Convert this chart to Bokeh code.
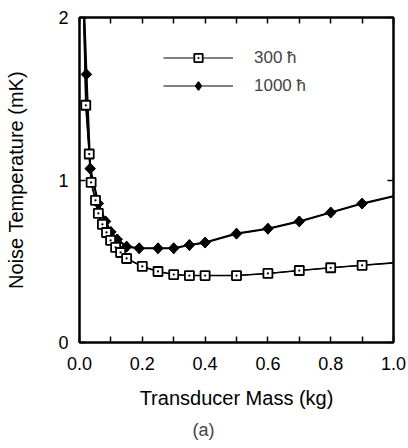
import math
from bokeh.plotting import figure
from bokeh.models import (FixedTicker, Legend, LegendItem, Title, Range1d,
                          LinearAxis, NumeralTickFormatter, CustomJSTickFormatter)
from bokeh.embed import file_html
from bokeh.resources import INLINE

# ---- data ----
mass_300 = [0.02, 0.031, 0.037, 0.051, 0.06, 0.073, 0.086, 0.099, 0.115, 0.131,
            0.15, 0.2, 0.25, 0.3, 0.35, 0.4, 0.5, 0.6, 0.7, 0.8, 0.9]
temp_300 = [1.46, 1.16, 0.985, 0.875, 0.795, 0.727, 0.677, 0.628, 0.585, 0.554,
            0.517, 0.468, 0.437, 0.418, 0.412, 0.412, 0.412, 0.425, 0.443, 0.46, 0.475]
start_300 = (0.0125, 2.1)
end_300 = (1.0, 0.49)

mass_1000 = [0.022, 0.034, 0.06, 0.083, 0.1, 0.12, 0.15, 0.19, 0.25, 0.3,
             0.35, 0.4, 0.5, 0.6, 0.7, 0.8, 0.9]
temp_1000 = [1.65, 1.07, 0.855, 0.745, 0.68, 0.635, 0.59, 0.58, 0.58, 0.58,
             0.60, 0.615, 0.67, 0.70, 0.745, 0.80, 0.855]
start_1000 = (0.0135, 2.1)
end_1000 = (1.0, 0.90)

x_ticks = [0.0, 0.2, 0.4, 0.6, 0.8, 1.0]
x_minor = [0.1, 0.3, 0.5, 0.7, 0.9]
y_ticks = [0, 1, 2]
labels = ["300 ħ", "1000 ħ"]
panel_tag = "(a)"

FONT = "Liberation Sans"

p = figure(width=408, height=448, x_range=Range1d(0, 1), y_range=Range1d(0, 2),
           output_backend="svg", toolbar_location=None,
           min_border_left=79, min_border_right=15, min_border_top=17,
           min_border_bottom=106,
           x_axis_label="Transducer Mass (kg)",
           y_axis_label="Noise Temperature (mK)")
p.grid.visible = False
p.outline_line_color = "black"
p.outline_line_width = 2

p.add_layout(LinearAxis(), "above")
p.add_layout(LinearAxis(), "right")

for ax in p.xaxis:
    ax.ticker = FixedTicker(ticks=x_ticks, minor_ticks=x_minor)
    ax.formatter = NumeralTickFormatter(format="0.0")
for ax in p.yaxis:
    ax.ticker = FixedTicker(ticks=y_ticks, minor_ticks=[])

for ax in p.axis:
    ax.axis_line_width = 2
    ax.axis_line_color = "black"
    ax.major_tick_in = 6
    ax.major_tick_out = 0
    ax.minor_tick_in = 6
    ax.minor_tick_out = 0
    ax.major_tick_line_width = 1.5
    ax.minor_tick_line_width = 1.5
    ax.major_label_text_font = FONT
    ax.major_label_text_font_size = "18px"
    ax.major_label_text_color = "black"
    ax.axis_label_text_font = FONT
    ax.axis_label_text_font_size = "20px"
    ax.axis_label_text_font_style = "normal"
    ax.axis_label_text_color = "black"

# top and right axes carry only ticks
for ax in (p.above[0], p.right[0]):
    ax.formatter = CustomJSTickFormatter(code="return ''")
    ax.major_label_standoff = 0

bottom = p.below[0]
bottom.major_label_standoff = 14
bottom.axis_label_standoff = 14
left = p.left[0]
left.major_label_standoff = 11
left.axis_label_standoff = 28

# ---- curves ----
line_x_300 = [start_300[0]] + mass_300 + [end_300[0]]
line_y_300 = [start_300[1]] + temp_300 + [end_300[1]]
line_x_1000 = [start_1000[0]] + mass_1000 + [end_1000[0]]
line_y_1000 = [start_1000[1]] + temp_1000 + [end_1000[1]]

# thin copies under the curves, used only for the legend's line style
thin_1000 = p.line(line_x_1000, line_y_1000, line_color="black", line_width=1)
thin_300 = p.line(line_x_300, line_y_300, line_color="black", line_width=1)

p.line(line_x_1000, line_y_1000, line_color="black", line_width=2.2)
p.line(line_x_300, line_y_300, line_color="black", line_width=1.6)

# diamond copy hidden under the rotated squares, used for the legend's marker
dm_1000 = p.scatter(mass_1000, temp_1000, marker="diamond", size=10,
                    fill_color="black", line_color="black", line_width=1.5)
p.scatter(mass_1000, temp_1000, marker="square", angle=math.pi / 4,
          size=7.5, fill_color="black", line_color="black", line_width=1)
mk_300 = p.scatter(mass_300, temp_300, marker="square_dot", size=9,
                   fill_color="white", line_color="black", line_width=1.8)

legend = Legend(items=[LegendItem(label=labels[0], renderers=[thin_300, mk_300]),
                       LegendItem(label=labels[1], renderers=[thin_1000, dm_1000])],
                location=(84, 246), glyph_width=70, glyph_height=21,
                label_height=21, spacing=7, padding=0, margin=0,
                label_standoff=21, border_line_color=None,
                background_fill_alpha=0,
                label_text_font=FONT, label_text_font_size="17px")
p.add_layout(legend)

# panel tag below the x-axis label
p.add_layout(Title(text=panel_tag, align="left", offset=113,
                   text_font=FONT, text_font_size="18px",
                   text_font_style="normal", standoff=13), "below")

open("out.html", "w").write(file_html(p, INLINE))
